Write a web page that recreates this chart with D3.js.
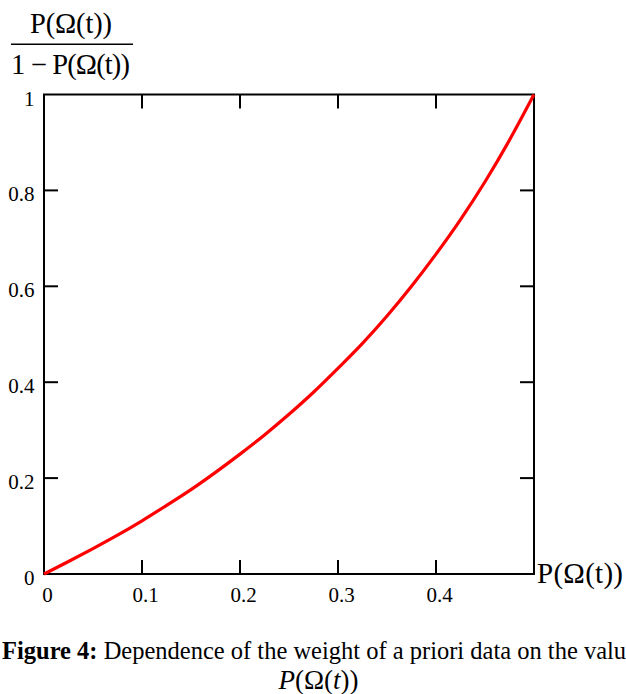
<!DOCTYPE html>
<html><head><meta charset="utf-8">
<script src="https://cdn.jsdelivr.net/npm/d3@7"></script>
<style>body{margin:0;background:#fff;overflow:hidden}svg{display:block}text{font-family:"Liberation Serif","Times New Roman",serif;fill:#000}</style>
</head><body>
<svg id="c" width="626" height="694"></svg>
<script>
const pValues = [0,0.025,0.05,0.075,0.1,0.125,0.15,0.175,0.2,0.225,0.25,0.275,0.3,0.325,0.35,0.375,0.4,0.425,0.45,0.475,0.5];
const weightValues = [0,0.026,0.053,0.081,0.111,0.143,0.176,0.212,0.25,0.29,0.333,0.379,0.429,0.481,0.538,0.6,0.667,0.739,0.818,0.905,1];
const xTicks = [0,0.1,0.2,0.3,0.4];
const xTickLabels = ["0","0.1","0.2","0.3","0.4"];
const yTicks = [0,0.2,0.4,0.6,0.8,1];
const yTickLabels = ["0","0.2","0.4","0.6","0.8","1"];

const svg = d3.select("#c");
const x = d3.scaleLinear().domain([0,0.5]).range([44,534]);
const y = d3.scaleLinear().domain([0,1]).range([574,94.5]);

// frame
svg.append("rect").attr("x",x(0)).attr("y",y(1)).attr("width",x(0.5)-x(0)).attr("height",y(0)-y(1))
  .attr("fill","none").attr("stroke","#000").attr("stroke-width",2);

const tl = 14;
xTicks.forEach(v=>{
  if(v===0) return;
  svg.append("line").attr("x1",x(v)).attr("x2",x(v)).attr("y1",y(0)).attr("y2",y(0)-tl).attr("stroke","#000").attr("stroke-width",2);
  svg.append("line").attr("x1",x(v)).attr("x2",x(v)).attr("y1",y(1)).attr("y2",y(1)+tl).attr("stroke","#000").attr("stroke-width",2);
});
yTicks.forEach(v=>{
  if(v===0||v===1) return;
  svg.append("line").attr("x1",x(0)).attr("x2",x(0)+tl).attr("y1",y(v)).attr("y2",y(v)).attr("stroke","#000").attr("stroke-width",2);
  svg.append("line").attr("x1",x(0.5)).attr("x2",x(0.5)-tl).attr("y1",y(v)).attr("y2",y(v)).attr("stroke","#000").attr("stroke-width",2);
});
xTicks.forEach((v,i)=>{
  svg.append("text").attr("x",x(v)+3.5).attr("y",602).attr("text-anchor","middle").attr("font-size",21).text(xTickLabels[i]);
});
yTicks.forEach((v,i)=>{
  svg.append("text").attr("x",34.5).attr("y",y(v)+11).attr("text-anchor","end").attr("font-size",21).text(yTickLabels[i]);
});

// curve
const pts = pValues.map((p,i)=>[p,weightValues[i]]);
svg.append("path").datum(pts)
  .attr("d",d3.line().x(d=>x(d[0])).y(d=>y(d[1])).curve(d3.curveMonotoneX))
  .attr("fill","none").attr("stroke","#ff0000").attr("stroke-width",3.2);

// axis labels
svg.append("text").attr("x",537).attr("y",583).attr("font-size",29).attr("textLength",86).text("P(Ω(t))");
svg.append("text").attr("x",30).attr("y",33).attr("font-size",28.5).attr("textLength",82).text("P(Ω(t))");
svg.append("line").attr("x1",11).attr("x2",133).attr("y1",44.3).attr("y2",44.3).attr("stroke","#000").attr("stroke-width",1.5);
svg.append("text").attr("x",11).attr("y",74).attr("font-size",28.5).attr("textLength",119).text("1 − P(Ω(t))");

// caption (extends past the right edge, as in the reference)
const cap = svg.append("text").attr("x",2).attr("y",659).attr("font-size",24.5);
cap.append("tspan").attr("font-weight","bold").text("Figure 4:");
cap.append("tspan").text(" Dependence of the weight of a priori data on the value");
const cap2 = svg.append("text").attr("x",318.5).attr("y",689).attr("text-anchor","middle").attr("font-size",27);
cap2.append("tspan").attr("font-style","italic").text("P");
cap2.append("tspan").text("(Ω(");
cap2.append("tspan").attr("font-style","italic").text("t");
cap2.append("tspan").text("))");
</script>
</body></html>
